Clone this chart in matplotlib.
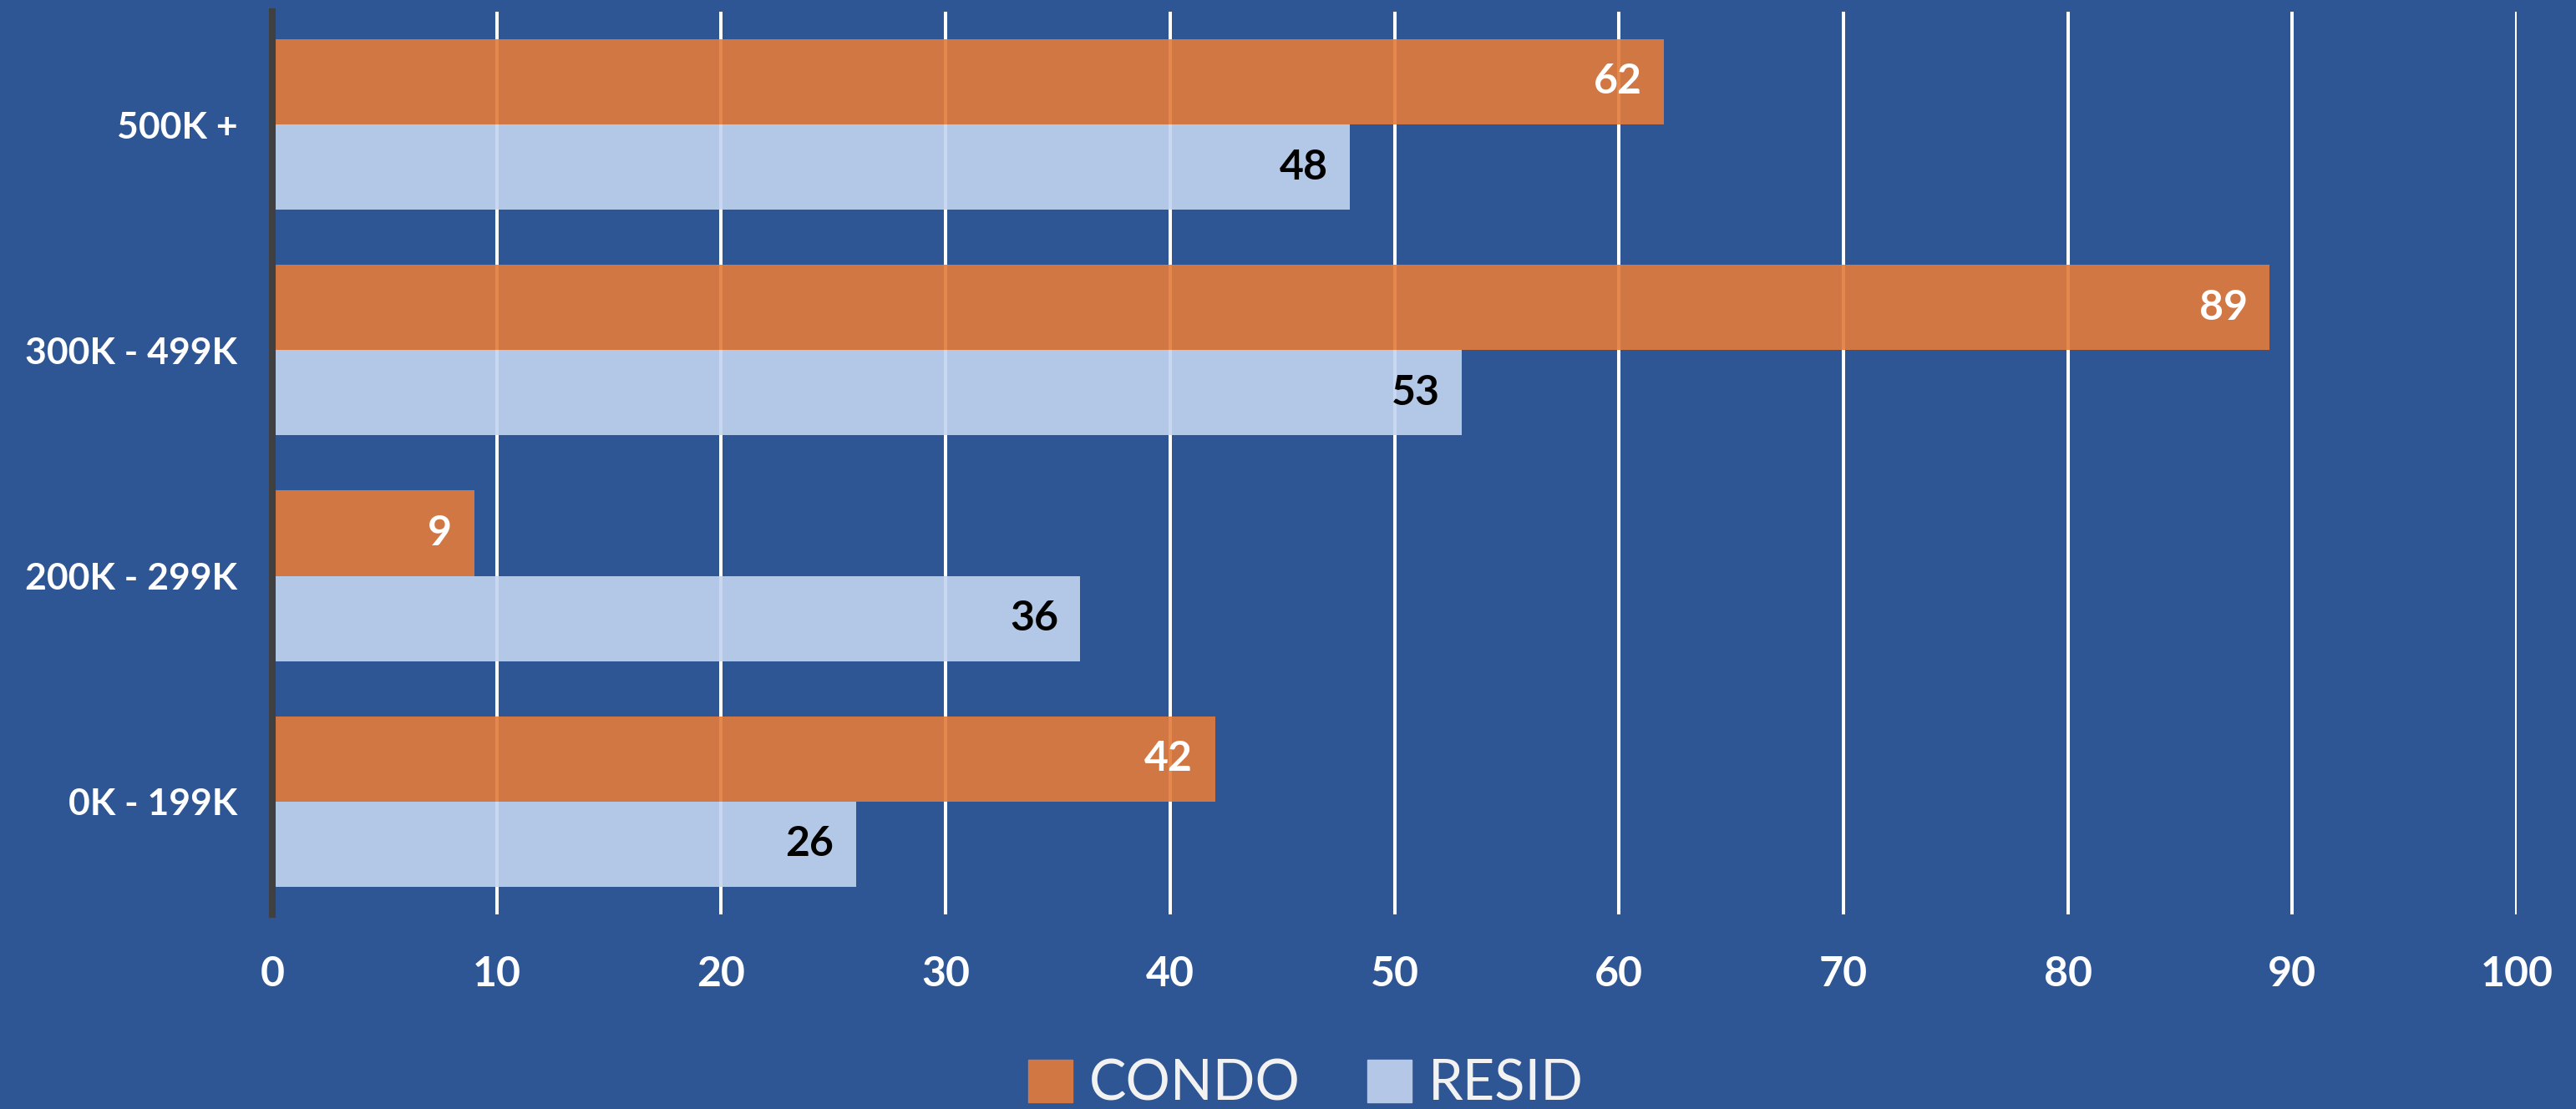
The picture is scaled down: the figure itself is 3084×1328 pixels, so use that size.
import matplotlib
matplotlib.use("Agg")
import matplotlib.pyplot as plt
import numpy as np

categories = ["0K - 199K", "200K - 299K", "300K - 499K", "500K +"]
condo = [42, 9, 89, 62]
resid = [26, 36, 53, 48]
series_names = ["CONDO", "RESID"]
xticks = [0, 10, 20, 30, 40, 50, 60, 70, 80, 90, 100]

BG = "#2E5594"
ORANGE = "#E37B3B"
LIGHT = "#C3D4F0"

plt.rcParams['font.family'] = ['Lato', 'DejaVu Sans']

fig = plt.figure(figsize=(30.84, 13.28), dpi=100, facecolor=BG)
ax = fig.add_axes([0.1057, 0.1755, 0.8713, 0.8140])
ax.set_facecolor(BG)

y = np.arange(len(categories))
h = 0.378
b1 = ax.barh(y + h / 2, condo, height=h, color=ORANGE, alpha=0.9, zorder=2, label=series_names[0])
b2 = ax.barh(y - h / 2, resid, height=h, color=LIGHT, alpha=0.9, zorder=2, label=series_names[1])

for v, yy in zip(condo, y + h / 2):
    ax.annotate(str(v), xy=(v, yy), xytext=(-19, 0), textcoords="offset points",
                ha="right", va="center", color="white", fontsize=36, fontweight="bold", zorder=4)
for v, yy in zip(resid, y - h / 2):
    ax.annotate(str(v), xy=(v, yy), xytext=(-19, 0), textcoords="offset points",
                ha="right", va="center", color="black", fontsize=36, fontweight="bold", zorder=4)

ax.set_xlim(0, 100)
ax.set_ylim(-0.5, 3.5)
ax.set_xticks(xticks)
ax.set_xticklabels([str(t) for t in xticks])
ax.set_yticks(y)
ax.set_yticklabels(categories)
ax.xaxis.grid(True, color="white", linewidth=2.9, zorder=1)
ax.set_axisbelow(True)
ax.tick_params(axis="x", length=0, pad=35, labelsize=36, labelcolor="white")
ax.tick_params(axis="y", length=0, pad=30, labelsize=32, labelcolor="white")
for lab in ax.get_xticklabels() + ax.get_yticklabels():
    lab.set_fontweight("bold")

for s in ["top", "right", "bottom"]:
    ax.spines[s].set_visible(False)
ax.spines["left"].set_color("#404040")
ax.spines["left"].set_linewidth(5.8)
ax.spines["left"].set_zorder(5)

leg = fig.legend(handles=[b1, b2], labels=series_names, loc="center", bbox_to_anchor=(0.507, 0.022),
                 ncol=2, frameon=False, fontsize=48, handlelength=0.8, handleheight=0.8,
                 handletextpad=0.3, columnspacing=1.2)
for t in leg.get_texts():
    t.set_color("#F2F2F2")
leg.legend_handles[0].set_alpha(1)
leg.legend_handles[1].set_alpha(1)
leg.legend_handles[0].set_color("#D17744")
leg.legend_handles[1].set_color("#B4C7E7")

fig.savefig("out.png", dpi=100, facecolor=BG)
